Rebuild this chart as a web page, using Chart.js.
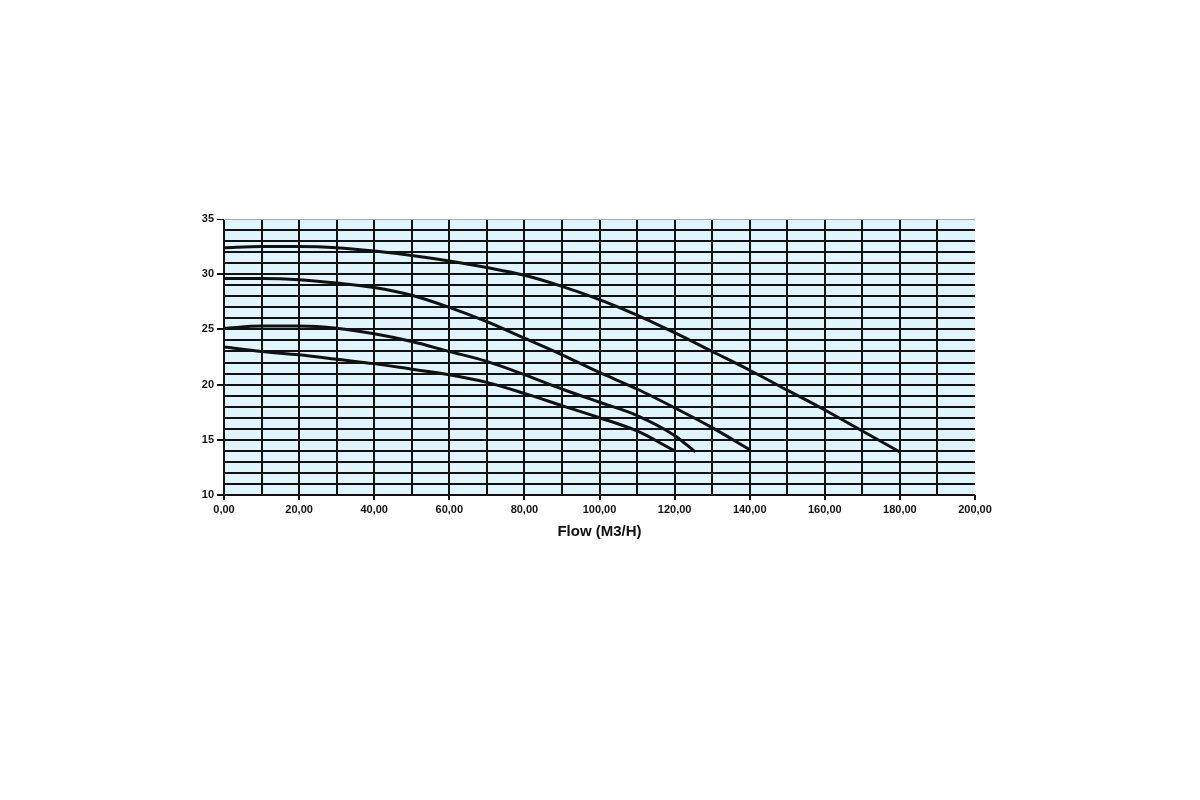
<!DOCTYPE html>
<html>
<head>
<meta charset="utf-8">
<script src="https://cdn.jsdelivr.net/npm/chart.js@4.4.1/dist/chart.umd.min.js"></script>
<style>
  html, body { margin: 0; padding: 0; background: #fff; }
  #wrap { width: 1200px; height: 800px; }
</style>
</head>
<body>
<div id="wrap"><canvas id="myChart" width="1200" height="800"></canvas></div>
<script>
// Pump curves - Head vs Flow (M3/H)
const flowA = [0, 10, 20, 30, 40, 50, 60, 70, 80, 90, 100, 110, 120, 130, 140, 150, 160, 170, 180];
const headA = [32.4, 32.5, 32.5, 32.4, 32.1, 31.7, 31.2, 30.6, 29.9, 28.9, 27.7, 26.3, 24.7, 23.0, 21.3, 19.5, 17.7, 15.8, 13.9];

const flowB = [0, 10, 20, 30, 40, 50, 60, 70, 80, 90, 100, 110, 120, 130, 140];
const headB = [29.6, 29.6, 29.5, 29.2, 28.8, 28.1, 27.0, 25.7, 24.2, 22.7, 21.1, 19.6, 17.9, 16.1, 14.1];

const flowC = [0, 10, 20, 30, 40, 50, 60, 70, 80, 90, 100, 110, 120, 125.5];
const headC = [25.1, 25.3, 25.3, 25.1, 24.6, 23.9, 23.0, 22.1, 20.9, 19.6, 18.4, 17.2, 15.4, 13.9];

const flowD = [0, 10, 20, 30, 40, 50, 60, 70, 80, 90, 100, 110, 120];
const headD = [23.4, 23.0, 22.7, 22.3, 21.9, 21.4, 20.9, 20.2, 19.2, 18.1, 17.0, 15.8, 14.0];

const xLabels = ['0,00', '20,00', '40,00', '60,00', '80,00', '100,00', '120,00', '140,00', '160,00', '180,00', '200,00'];
const yLabels = ['10', '15', '20', '25', '30', '35'];

function toPoints(xs, ys) {
    return xs.map(function (x, i) { return { x: x, y: ys[i] }; });
}

function curve(xs, ys) {
    return {
        data: toPoints(xs, ys),
        borderColor: '#111',
        borderWidth: 3,
        pointRadius: 0,
        cubicInterpolationMode: 'monotone',
        fill: false
    };
}

const plotBg = {
    id: 'plotBg',
    beforeDraw: function (chart) {
        const a = chart.chartArea;
        const c = chart.ctx;
        c.save();
        c.fillStyle = '#dff4fb';
        c.fillRect(a.left, a.top, a.right - a.left, a.bottom - a.top);
        c.restore();
    }
};

const tickFont = { family: 'Liberation Sans, Arial, sans-serif', size: 11, weight: 'bold' };

const ctx = document.getElementById('myChart').getContext('2d');
const myChart = new Chart(ctx, {
    type: 'line',
    data: {
        datasets: [
            curve(flowA, headA),
            curve(flowB, headB),
            curve(flowC, headC),
            curve(flowD, headD)
        ]
    },
    plugins: [plotBg],
    options: {
        responsive: false,
        animation: false,
        layout: { padding: { left: 186, top: 219, right: 225, bottom: 255 } },
        plugins: { legend: { display: false }, tooltip: { enabled: false } },
        scales: {
            x: {
                type: 'linear',
                min: 0,
                max: 200,
                border: { display: false },
                grid: {
                    color: function (c) { return c.tick && c.tick.value === 200 ? 'rgba(0,0,0,0)' : '#111'; },
                    lineWidth: 2,
                    tickLength: 5,
                    tickColor: function (c) { return c.tick && c.tick.value % 20 === 0 ? '#111' : 'rgba(0,0,0,0)'; }
                },
                ticks: {
                    stepSize: 10,
                    autoSkip: false,
                    maxRotation: 0,
                    color: '#111',
                    font: tickFont,
                    padding: 3,
                    callback: function (v) { return v % 20 === 0 ? xLabels[v / 20] : ''; }
                },
                title: {
                    display: true,
                    text: 'Flow (M3/H)',
                    color: '#111',
                    font: { family: 'Liberation Sans, Arial, sans-serif', size: 15, weight: 'bold' },
                    padding: { top: 3 }
                },
                afterFit: function (s) { s.height = 50; }
            },
            y: {
                min: 10,
                max: 35,
                border: { display: false },
                grid: {
                    color: function (c) { return c.tick && c.tick.value === 35 ? '#aaa' : '#111'; },
                    lineWidth: function (c) { return c.tick && c.tick.value === 35 ? 1 : 2; },
                    tickLength: 7,
                    tickColor: function (c) { return c.tick && c.tick.value % 5 === 0 ? '#111' : 'rgba(0,0,0,0)'; }
                },
                ticks: {
                    stepSize: 1,
                    autoSkip: false,
                    color: '#111',
                    font: tickFont,
                    padding: 3,
                    callback: function (v) { return v % 5 === 0 ? yLabels[(v - 10) / 5] : ''; }
                },
                afterFit: function (s) { s.width = 38; }
            }
        }
    }
});
</script>
</body>
</html>
